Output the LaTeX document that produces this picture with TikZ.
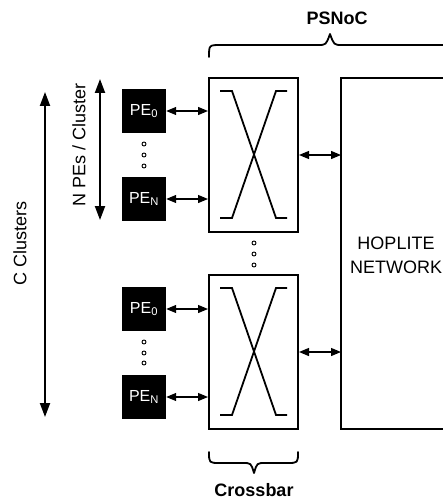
\documentclass[tikz,border=0pt]{standalone}
\usepackage{fontspec}
\setmainfont{Liberation Sans}
\usetikzlibrary{arrows.meta}
\begin{document}
\begin{tikzpicture}[x=1pt,y=-1pt,
  pebox/.style={fill=black,text=white,minimum width=44pt,minimum height=44pt,inner sep=0pt,font=\fontsize{16}{18}\selectfont},
  xbar/.style={draw,line width=2pt,minimum width=89pt,minimum height=154pt,inner sep=0pt},
  darr/.style={line width=1.2pt,{Triangle[length=10pt,width=8pt]}-{Triangle[length=10pt,width=8pt]}},
  varr/.style={line width=2pt,{Triangle[length=14pt,width=10pt]}-{Triangle[length=14pt,width=10pt]}},
  dotc/.style={circle,draw,fill=white,line width=0.9pt,minimum size=4pt,inner sep=0pt},
  lbl/.style={font=\fontsize{18}{24}\selectfont},
  blbl/.style={font=\fontsize{18}{24}\selectfont\bfseries},
  brc/.style={line width=1.8pt,line cap=round,line join=round}]
\useasboundingbox (0,0) rectangle (442,500);

% crossbars
\node[xbar] (cb1) at (253.5,155) {};
\node[xbar] (cb2) at (253.5,352) {};
\foreach \c in {cb1,cb2}{
  \draw[line width=1.8pt] ([shift={(-33.5,-64)}]\c.center) -- ([shift={(-21.5,-64)}]\c.center) -- ([shift={(22.5,63)}]\c.center) -- ([shift={(33.5,63)}]\c.center);
  \draw[line width=1.8pt] ([shift={(33.5,-64)}]\c.center) -- ([shift={(22.5,-64)}]\c.center) -- ([shift={(-21.5,63)}]\c.center) -- ([shift={(-33.5,63)}]\c.center);
}

% PEs
\node[pebox] (pa0) at (144,111) {PE\textsubscript{0}};
\node[pebox] (paN) at (144,199) {PE\textsubscript{N}};
\node[pebox] (pb0) at (144,309) {PE\textsubscript{0}};
\node[pebox] (pbN) at (144,397) {PE\textsubscript{N}};

\draw[darr] (pa0.east) -- (pa0.east -| cb1.west);
\draw[darr] (paN.east) -- (paN.east -| cb1.west);
\draw[darr] (pb0.east) -- (pb0.east -| cb2.west);
\draw[darr] (pbN.east) -- (pbN.east -| cb2.west);

% dots
\foreach \y in {144,155,166,342,353,363} \node[dotc] (d\y) at (144,\y) {};
\foreach \y in {243,254,265} \node[dotc] (e\y) at (254,\y) {};

% HOPLITE network box (extends past the right edge)
\coordinate (hl) at (341,78);
\coordinate (hb) at (341,429);
\draw[line width=2pt] (443,78) -- (hl) -- (hb) -- (443,429);
\node[lbl,align=center] (hop) at (396,255) {HOPLITE\\NETWORK};
\draw[darr] (cb1.east) -- (cb1.east -| hl);
\draw[darr] (cb2.east) -- (cb2.east -| hl);

% vertical arrows
\coordinate (na) at (100,79);
\coordinate (nb) at (100,220);
\draw[varr] (na) -- (nb);
\node[lbl,rotate=90] (nlab) at (79,145) {N PEs / Cluster};
\coordinate (ca) at (45,92);
\coordinate (cb) at (45,417);
\draw[varr] (ca) -- (cb);
\node[lbl,rotate=90] (clab) at (20,243) {C Clusters};

% braces
\draw[brc] (209,57) .. controls (209,45) .. (221,45) -- (318,45) .. controls (326,45) .. (330,34) .. controls (334,45) .. (342,45) -- (443,45);
\node[blbl] (psnoc) at (337,18) {PSNoC};
\draw[brc] (209,452) .. controls (209,463) .. (220,463) -- (243,463) .. controls (251,463) .. (254,473) .. controls (257,463) .. (265,463) -- (287,463) .. controls (298,463) .. (298,452);
\node[blbl] (xlab) at (254,490) {Crossbar};
\end{tikzpicture}
\end{document}
